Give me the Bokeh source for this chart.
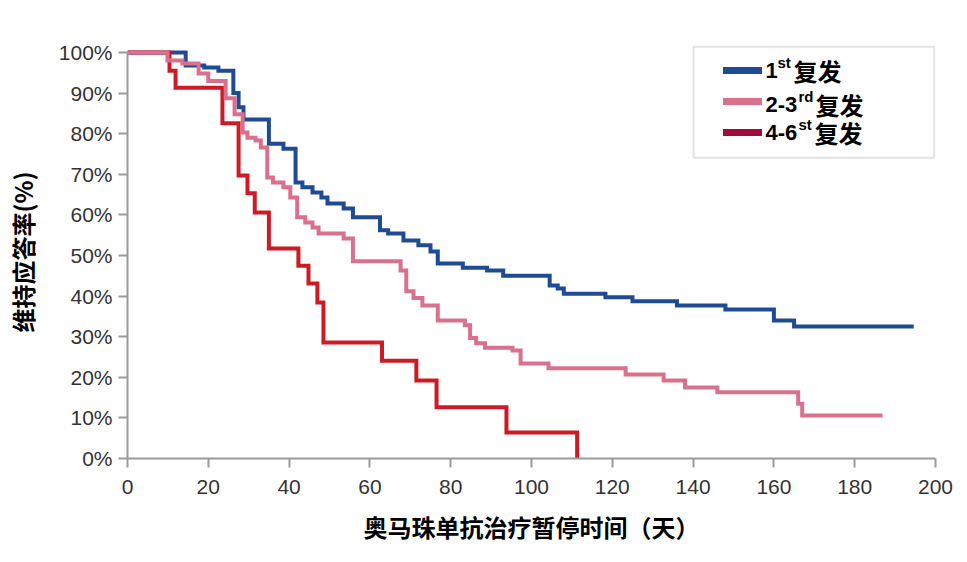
from bokeh.models import Range1d, FixedTicker, PrintfTickFormatter, Legend, LegendItem, BoxAnnotation, Label
from bokeh.plotting import figure
from bokeh.embed import file_html
from bokeh.resources import INLINE

# days since omalizumab pause, % still responding
t_first = [0, 14.4, 19, 22.5, 26.2, 27.5, 28.7, 35, 38.6, 41.6, 43.3, 45.8, 48, 49.5,
           53.5, 55.8, 62.5, 64.5, 68.3, 72, 75, 76.8, 83, 89, 93, 104.5, 106.5, 108,
           118.3, 125, 136, 148, 160, 165, 194.6]
s_first = [100, 96.8, 96.3, 95.5, 90, 86.5, 83.5, 77.5, 76.3, 68, 66.8, 65.5, 64.3, 62.8,
           61.6, 59.4, 56.2, 55.4, 53.7, 52.5, 51, 48, 47, 46.3, 45, 42.6, 41.9, 40.6,
           39.7, 38.7, 37.7, 36.7, 34, 32.5, 32.5]

t_second = [0, 9.9, 13.6, 17.6, 20, 24.3, 26.5, 28.5, 29.7, 31.7, 33, 34.6, 36, 38.6,
            40.3, 42, 44, 45.8, 47.3, 53.5, 55.8, 67.6, 69, 70.8, 73, 76.8, 83.5, 84.8,
            86.3, 88.5, 95.3, 97.3, 104.2, 123.3, 132.7, 138, 146, 166, 167, 186.9]
s_second = [100, 98, 97.3, 94.8, 93, 88.7, 84.8, 80.3, 79, 78.3, 76.6, 69.2, 68, 66.8,
            64.3, 59.4, 58.1, 56.9, 55.4, 54.2, 48.6, 46.3, 41.2, 39.5, 37.7, 34, 32.8, 29.7,
            28.4, 27.3, 26.6, 23.4, 22.2, 20.7, 19.2, 17.5, 16.3, 13.5, 10.6, 10.6]

t_third = [0, 10.4, 11.9, 23.5, 27.5, 29.7, 31.5, 35, 42.3, 44.8, 47, 48.5, 63, 71.5,
           76.5, 93.8, 111.3]
s_third = [100, 95.5, 91.3, 82.6, 69.7, 65.3, 60.6, 51.7, 47.5, 43.1, 38.4, 28.6, 24.1, 19.2,
           12.6, 6.4, 0]

# legend text: "1" + superscript "st" + "复发"
leg_main = ["1", "2-3", "4-6"]
leg_sup = ["st", "rd", "st"]
leg_tail = "复发"
line_colors = ["#1f4b93", "#d9708c", "#cc1b25"]
legend_colors = ["#1f4b93", "#d9708c", "#a00b3a"]

x_ticks = list(range(0, 201, 20))
y_ticks = list(range(0, 101, 10))

AX = "#9a9a9a"
FONT = "Liberation Sans"
CJK = "Noto Sans CJK SC"

p = figure(frame_width=808, frame_height=413, output_backend="svg", toolbar_location=None,
           min_border_left=127, min_border_top=45, min_border_right=20, min_border_bottom=90,
           x_range=Range1d(0, 200), y_range=Range1d(0, 101.72))
p.outline_line_color = None
p.xgrid.visible = False
p.ygrid.visible = False

p.xaxis.ticker = FixedTicker(ticks=x_ticks)
p.yaxis.ticker = FixedTicker(ticks=y_ticks)
p.yaxis.formatter = PrintfTickFormatter(format="%d%%")
p.yaxis.bounds = (0, 100)
for ax in (p.xaxis, p.yaxis):
    ax.axis_line_color = AX
    ax.axis_line_width = 2
    ax.major_tick_line_color = AX
    ax.major_tick_line_width = 2
    ax.major_tick_in = 0
    ax.major_tick_out = 9
    ax.minor_tick_line_color = None
    ax.major_label_text_font = FONT
    ax.major_label_text_font_size = "21px"
    ax.major_label_text_color = "#333333"
    ax.axis_label_text_font = CJK
    ax.axis_label_text_font_size = "24px"
    ax.axis_label_text_font_style = "bold"
    ax.axis_label_text_color = "#000000"
p.xaxis.major_label_standoff = 12
p.xaxis.axis_label_standoff = 12
p.yaxis.major_label_standoff = 6
p.yaxis.axis_label_standoff = 16
p.xaxis.axis_label = "奥马珠单抗治疗暂停时间（天）"
p.yaxis.axis_label = "维持应答率(%)"

for t, s, c in [(t_first, s_first, line_colors[0]),
                (t_third, s_third, line_colors[2]),
                (t_second, s_second, line_colors[1])]:
    p.step(t, s, mode="after", line_color=c, line_width=4, line_join="miter")

# legend: swatches from a Legend (labels blank), text drawn as labels
nan = float("nan")
items = []
for c in legend_colors:
    r = p.line(x=[nan], y=[nan], line_color=c, line_width=7, line_cap="round")
    items.append(LegendItem(label=" ", renderers=[r]))
legend = Legend(items=items, location=(596, 316), glyph_width=39, glyph_height=20,
                label_height=20, label_width=1, spacing=11, padding=0, margin=0,
                label_standoff=0, border_line_alpha=0, background_fill_alpha=0,
                label_text_font_size="6px")
p.add_layout(legend)
p.add_layout(BoxAnnotation(left=140.1, right=199.7, bottom=74.1, top=101.4,
                           fill_alpha=0, line_color="#a6a6a6", line_width=2))

leg_x = 157.9
base_y = [95.6, 87.2, 80.2]
sup_y = [97.6, 89.2, 82.2]
sup_dx = [12, 33, 33]
tail_dx = [28, 50, 49]
for i in range(3):
    p.add_layout(Label(x=leg_x, y=base_y[i], text=leg_main[i], text_font=FONT,
                       text_font_size="22px", text_font_style="bold", text_color="#000000",
                       text_baseline="alphabetic"))
    p.add_layout(Label(x=leg_x, y=sup_y[i], x_offset=sup_dx[i], text=leg_sup[i], text_font=FONT,
                       text_font_size="15px", text_font_style="bold", text_color="#000000",
                       text_baseline="alphabetic"))
    p.add_layout(Label(x=leg_x, y=base_y[i], x_offset=tail_dx[i], text=leg_tail, text_font=CJK,
                       text_font_size="24px", text_font_style="bold", text_color="#000000",
                       text_baseline="alphabetic"))

open("out.html", "w").write(file_html(p, INLINE))
